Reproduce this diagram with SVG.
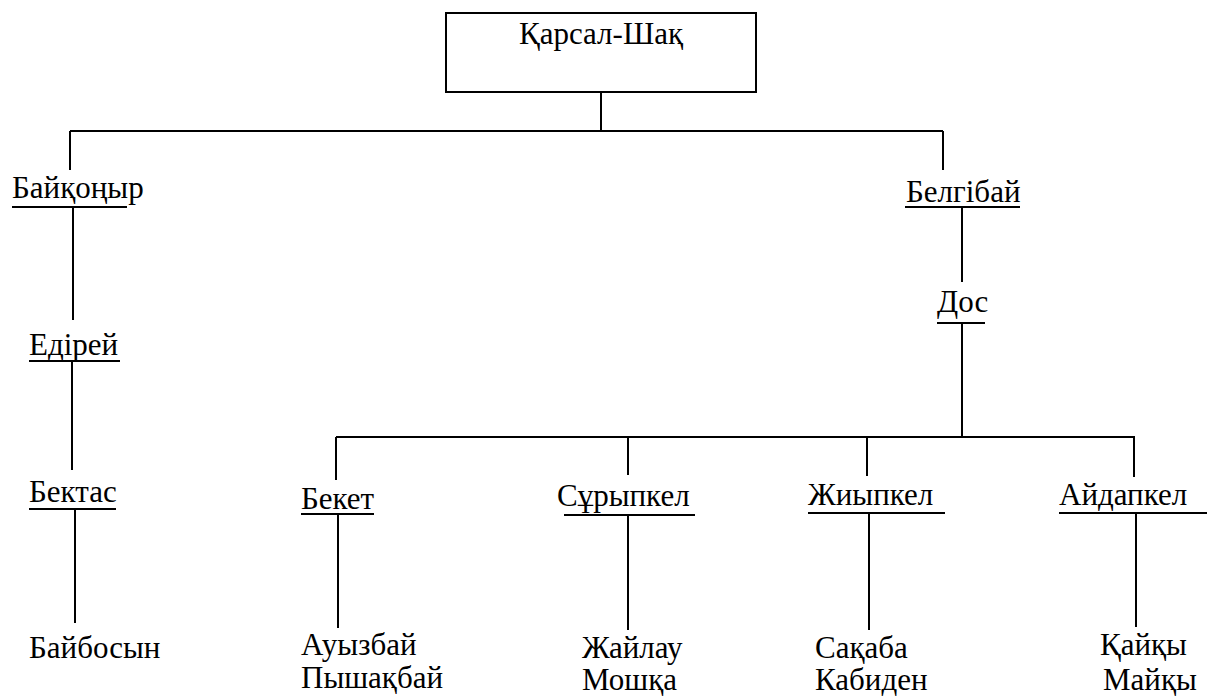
<svg xmlns="http://www.w3.org/2000/svg" width="1207" height="698" viewBox="0 0 1207 698">
<rect width="1207" height="698" fill="#fff"/>
<g id="connectors" stroke="#000" stroke-width="2" fill="none">
<path d="M601 92V131M70 131H943M70 131V170M943 131V170"/>
<path d="M73 207V320M72 361V470M75 509V623"/>
<path d="M962 208V282M962 323V437M336 437H1135M336 437V480M628 437V475M867 437V476M1134 437V477"/>
<path d="M338 514V628M628 515V630M869 513V630M1136 513V627"/>
</g>
<rect id="n-root" x="446" y="13" width="310" height="79" stroke="#000" stroke-width="2" fill="none"/>
<g id="underlines" stroke="#000" stroke-width="2">
<line x1="12" y1="207" x2="127" y2="207"/>
<line x1="29" y1="361" x2="120" y2="361"/>
<line x1="29" y1="509" x2="116" y2="509"/>
<line x1="905" y1="207" x2="1020" y2="207"/>
<line x1="937" y1="323" x2="985" y2="323"/>
<line x1="301" y1="514" x2="374" y2="514"/>
<line x1="564" y1="515" x2="695" y2="515"/>
<line x1="808" y1="513" x2="945" y2="513"/>
<line x1="1059" y1="513" x2="1207" y2="513"/>
</g>
<text x="601" y="44" text-anchor="middle" font-family="Times New Roman" style="font-family:'Times New Roman'" font-size="31">Қарсал-Шақ</text>
<text x="12" y="198" font-family="Times New Roman" style="font-family:'Times New Roman'" font-size="31">Байқоңыр</text>
<text x="29" y="355" font-family="Times New Roman" style="font-family:'Times New Roman'" font-size="31">Едірей</text>
<text x="29" y="502" font-family="Times New Roman" style="font-family:'Times New Roman'" font-size="31">Бектас</text>
<text x="29" y="658" font-family="Times New Roman" style="font-family:'Times New Roman'" font-size="31">Байбосын</text>
<text x="906" y="202" font-family="Times New Roman" style="font-family:'Times New Roman'" font-size="31">Белгібай</text>
<text x="937" y="312" font-family="Times New Roman" style="font-family:'Times New Roman'" font-size="31">Дос</text>
<text x="301" y="509" font-family="Times New Roman" style="font-family:'Times New Roman'" font-size="31">Бекет</text>
<text x="557" y="506" font-family="Times New Roman" style="font-family:'Times New Roman'" font-size="31">Сұрыпкел</text>
<text x="808" y="505" font-family="Times New Roman" style="font-family:'Times New Roman'" font-size="31">Жиыпкел</text>
<text x="1059" y="505" font-family="Times New Roman" style="font-family:'Times New Roman'" font-size="31">Айдапкел</text>
<text x="301" y="655" font-family="Times New Roman" style="font-family:'Times New Roman'" font-size="31">Ауызбай</text>
<text x="301" y="688" font-family="Times New Roman" style="font-family:'Times New Roman'" font-size="31">Пышақбай</text>
<text x="582" y="658" font-family="Times New Roman" style="font-family:'Times New Roman'" font-size="31">Жайлау</text>
<text x="582" y="690" font-family="Times New Roman" style="font-family:'Times New Roman'" font-size="31">Мошқа</text>
<text x="815" y="658" font-family="Times New Roman" style="font-family:'Times New Roman'" font-size="31">Сақаба</text>
<text x="815" y="690" font-family="Times New Roman" style="font-family:'Times New Roman'" font-size="31">Кабиден</text>
<text x="1100" y="655" font-family="Times New Roman" style="font-family:'Times New Roman'" font-size="31">Қайқы</text>
<text x="1103" y="690" font-family="Times New Roman" style="font-family:'Times New Roman'" font-size="31">Майқы</text>
</svg>
